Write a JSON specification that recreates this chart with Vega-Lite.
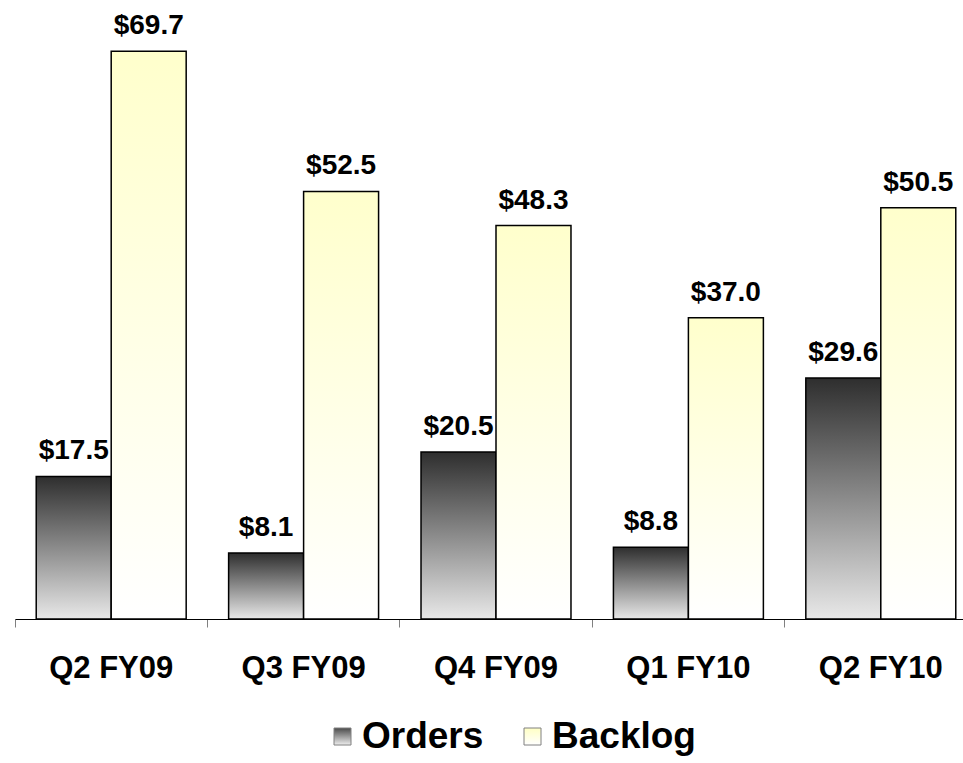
{
  "$schema": "https://vega.github.io/schema/vega-lite/v6.json",
  "width": 962,
  "height": 619,
  "autosize": "none",
  "padding": {"left": 15, "top": 0, "right": 0, "bottom": 144},
  "background": "white",
  "config": {"view": {"stroke": null}, "font": "Liberation Sans"},
  "data": {
    "values": [
      {"quarter": "Q2 FY09", "series": "Orders", "value": 17.5},
      {"quarter": "Q2 FY09", "series": "Backlog", "value": 69.7},
      {"quarter": "Q3 FY09", "series": "Orders", "value": 8.1},
      {"quarter": "Q3 FY09", "series": "Backlog", "value": 52.5},
      {"quarter": "Q4 FY09", "series": "Orders", "value": 20.5},
      {"quarter": "Q4 FY09", "series": "Backlog", "value": 48.3},
      {"quarter": "Q1 FY10", "series": "Orders", "value": 8.8},
      {"quarter": "Q1 FY10", "series": "Backlog", "value": 37.0},
      {"quarter": "Q2 FY10", "series": "Orders", "value": 29.6},
      {"quarter": "Q2 FY10", "series": "Backlog", "value": 50.5}
    ]
  },
  "encoding": {
    "x": {
      "field": "quarter",
      "type": "nominal",
      "sort": null,
      "scale": {"paddingInner": 0, "paddingOuter": 0},
      "axis": {
        "title": null,
        "bandPosition": 0,
        "labelAngle": 0,
        "labelFontSize": 31,
        "labelFontWeight": "bold",
        "labelColor": "black",
        "labelPadding": 26,
        "tickSize": 8,
        "tickColor": "#808080",
        "tickWidth": 1,
        "domainColor": "black",
        "domainWidth": 1
      }
    },
    "xOffset": {
      "field": "series",
      "type": "nominal",
      "scale": {"domain": ["Orders", "Backlog"], "paddingInner": 0, "paddingOuter": 0.283}
    },
    "y": {
      "field": "value",
      "type": "quantitative",
      "scale": {"domain": [0, 76], "nice": false},
      "axis": null
    }
  },
  "resolve": {"scale": {"shape": "independent"}, "legend": {"shape": "independent"}},
  "layer": [
    {
      "transform": [{"filter": "datum.value < 0"}],
      "mark": {
        "type": "point",
        "filled": true,
        "opacity": 1,
        "stroke": "#808080",
        "strokeWidth": 1,
        "fill": {"gradient": "linear", "x1": 0, "y1": 0, "x2": 0, "y2": 1, "stops": [{"offset": 0, "color": "#4a4a4a"}, {"offset": 1, "color": "#eeeeee"}]}
      },
      "encoding": {
        "shape": {
          "field": "series",
          "type": "nominal",
          "scale": {"domain": ["Orders"], "range": ["square"]},
          "legend": {
            "title": null,
            "orient": "none",
            "legendX": 309,
            "legendY": 718,
            "symbolSize": 289,
            "symbolOpacity": 1,
            "symbolStrokeColor": "#808080",
            "symbolStrokeWidth": 1,
            "labelFontSize": 37,
            "labelFontWeight": "bold",
            "labelColor": "black",
            "labelOffset": 1,
            "encoding": {"symbols": {"stroke": {"value": "#808080"}, "strokeWidth": {"value": 1}}}
          }
        }
      }
    },
    {
      "transform": [{"filter": "datum.value < 0"}],
      "mark": {
        "type": "point",
        "filled": true,
        "opacity": 1,
        "stroke": "#808080",
        "strokeWidth": 1,
        "fill": {"gradient": "linear", "x1": 0, "y1": 0, "x2": 0, "y2": 1, "stops": [{"offset": 0, "color": "#ffffc4"}, {"offset": 1, "color": "#ffffff"}]}
      },
      "encoding": {
        "shape": {
          "field": "series",
          "type": "nominal",
          "scale": {"domain": ["Backlog"], "range": ["square"]},
          "legend": {
            "title": null,
            "orient": "none",
            "legendX": 499,
            "legendY": 718,
            "symbolSize": 289,
            "symbolOpacity": 1,
            "symbolStrokeColor": "#808080",
            "symbolStrokeWidth": 1,
            "labelFontSize": 37,
            "labelFontWeight": "bold",
            "labelColor": "black",
            "labelOffset": 1,
            "encoding": {"symbols": {"stroke": {"value": "#808080"}, "strokeWidth": {"value": 1}}}
          }
        }
      }
    },
    {
      "transform": [{"filter": "datum.series === 'Orders'"}],
      "mark": {
        "type": "bar",
        "stroke": "black",
        "strokeWidth": 1.5,
        "fill": {"gradient": "linear", "x1": 0, "y1": 0, "x2": 0, "y2": 1, "stops": [{"offset": 0, "color": "#2e2e2e"}, {"offset": 1, "color": "#e8e8e8"}]}
      }
    },
    {
      "transform": [{"filter": "datum.series === 'Backlog'"}],
      "mark": {
        "type": "bar",
        "stroke": "black",
        "strokeWidth": 1.5,
        "fill": {"gradient": "linear", "x1": 0, "y1": 0, "x2": 0, "y2": 1, "stops": [{"offset": 0, "color": "#ffffcc"}, {"offset": 1, "color": "#ffffff"}]}
      }
    },
    {
      "mark": {"type": "text", "fontSize": 28, "fontWeight": "bold", "color": "black", "baseline": "alphabetic", "dy": -17},
      "encoding": {
        "text": {"field": "value", "type": "quantitative", "format": "$.1f"}
      }
    }
  ]
}
